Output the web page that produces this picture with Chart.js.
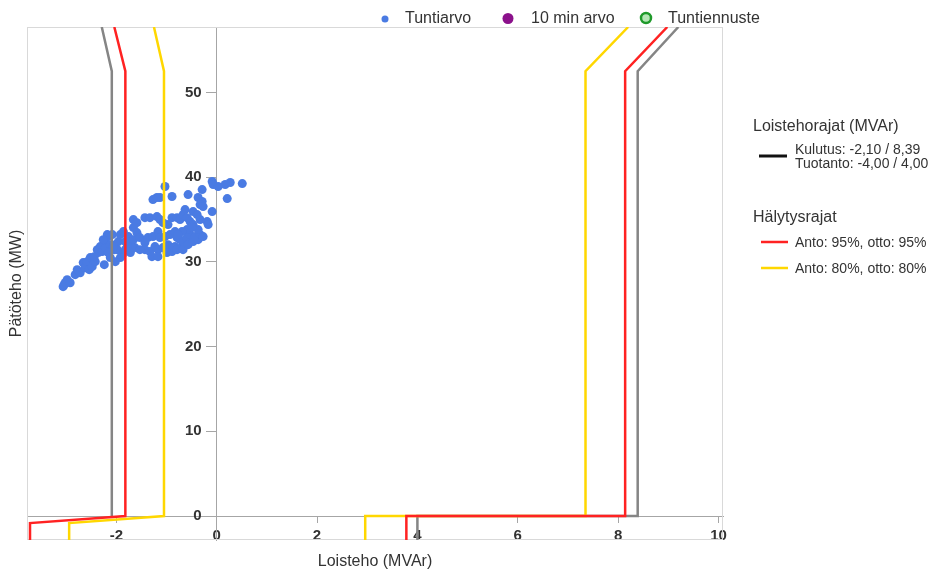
<!DOCTYPE html>
<html><head><meta charset="utf-8">
<script src="https://cdn.jsdelivr.net/npm/chart.js@4"></script>
<style>html,body{margin:0;padding:0;background:#fff;overflow:hidden}#wrap{width:929px;height:571px;position:relative}</style>
</head><body><div id="wrap"><canvas id="c" width="929" height="571"></canvas></div>
<script>
// Tuntiarvo (hourly values): reactive power Q (MVAr), active power P (MW)
const hourQ = [-3.06,-3.02,-2.98,-3.04,-2.92,-2.82,-2.78,-2.72,-2.66,-2.62,-2.58,-2.54,-2.52,-2.48,-2.42,-2.44,-2.36,-2.38,-2.32,-2.24,
 -2.28,-2.22,-2.22,-2.16,-2.12,-2.08,-2.04,-2.02,-1.98,-1.96,-1.92,-1.88,-1.86,-1.82,-1.82,-1.76,-1.72,-1.72,-1.66,-1.66,
 -1.66,-1.59,-1.59,-1.53,-1.63,-1.43,-1.33,-1.19,-1.13,-1.07,-0.97,-0.89,-0.79,-1.19,-1.13,-1.27,-1.03,-0.89,-1.37,-1.27,
 -1.17,-1.13,-1.03,-0.93,-0.83,-0.79,-1.43,-1.33,-1.23,-1.17,-1.07,-0.97,-0.89,-0.83,-1.29,-1.17,-1.43,-1.53,-0.87,-0.79,
 -0.69,-0.99,-0.67,-0.73,-0.59,-0.53,-0.67,-0.57,-0.47,-0.37,-0.43,-0.33,-0.27,-0.37,-0.59,-0.69,-0.77,-0.53,-0.47,-0.49,
 -0.33,-0.19,-0.17,-0.73,-0.63,-0.67,-0.59,-0.47,-0.39,-0.09,-0.37,-0.29,-0.33,-0.27,-0.57,-0.29,-0.09,-0.07,0.03,0.17,
 0.27,0.51,0.21,-2.18,-2.26,-2.06,-2.16,-1.78,-1.92,-2.02,-2.12];
const hourP = [27.07,27.54,27.90,27.30,27.54,28.49,29.08,28.72,29.91,29.31,30.02,29.08,30.50,29.43,30.02,30.61,31.09,31.44,31.80,29.67,
 31.21,32.39,31.68,32.98,32.03,33.22,31.44,32.03,31.44,32.39,33.22,30.85,33.57,31.44,32.39,32.98,32.39,31.09,34.04,32.62,
 34.99,34.63,33.45,32.86,31.68,35.22,35.22,35.34,34.99,34.63,34.40,35.22,35.22,37.59,37.59,37.35,38.89,37.71,32.86,32.98,
 33.57,32.86,32.98,33.22,33.57,32.86,31.44,31.21,31.80,31.44,31.68,32.03,31.21,31.80,30.61,30.61,32.27,31.44,31.68,31.44,
 31.80,31.09,32.39,32.62,32.86,33.22,31.44,32.03,32.39,32.62,32.98,33.22,32.98,33.81,33.81,33.57,33.22,34.75,34.40,34.04,
 34.99,34.75,34.40,34.99,36.17,35.58,35.22,35.93,35.58,35.93,37.59,37.12,36.76,36.52,37.94,38.53,39.48,39.13,38.89,39.13,
 39.36,39.24,37.47,33.22,32.62,31.80,31.09,31.80,30.50,30.02,30.50];
// 10 min arvo and Tuntiennuste: no values shown
const tenMinQ = [], tenMinP = [];
const forecastQ = [], forecastP = [];
// Limit lines (Q, P)
const grayLeftP   = [57.72, 52.5, 0];
const grayLeftQ   = [-2.29, -2.09, -2.09];
const leftP  = [57.72, 52.5, 0, -0.83, -2.83];
const rightP = [57.72, 52.5, 0, 0, -2.83];
const grayRightQ  = [9.20, 8.39, 8.39, 4.00, 4.00];
const redLeftQ    = [-2.04, -1.82, -1.82, -3.72, -3.72];
const redRightQ   = [8.98, 8.14, 8.14, 3.78, 3.78];
const yellowLeftQ = [-1.25, -1.05, -1.05, -2.94, -2.94];
const yellowRightQ= [8.20, 7.35, 7.35, 2.96, 2.96];
const xTicks = [-2, 0, 2, 4, 6, 8, 10];
const yTicks = [0, 10, 20, 30, 40, 50];

const FONT = "'Liberation Sans', Arial, sans-serif";
Chart.defaults.font.family = FONT;
const pts = (q, p) => q.map((v, i) => ({x: v, y: p[i]}));
const limitLine = (q, p, color, w, order) => ({
  data: pts(q, p), showLine: true, borderColor: color, backgroundColor: color,
  borderWidth: w, pointRadius: 0, pointHoverRadius: 0, order: order, tension: 0
});

const deco = {
  id: 'deco',
  beforeDatasetsDraw(chart) {
    const {ctx, chartArea: a} = chart;
    ctx.save();
    ctx.strokeStyle = '#d9d9d9'; ctx.lineWidth = 1;
    ctx.strokeRect(a.left + 0.5, a.top + 0.5, a.right - a.left - 1, a.bottom - a.top - 1);
    // y tick labels, left of the y axis at Q = 0
    const xs = chart.scales.x, ys = chart.scales.y;
    const ax = xs.getPixelForValue(0);
    ctx.font = "bold 15px " + FONT;
    ctx.fillStyle = '#333';
    ctx.textAlign = 'right';
    ctx.textBaseline = 'middle';
    yTicks.forEach(v => ctx.fillText(String(v), ax - 15, ys.getPixelForValue(v)));
    ctx.restore();
  },
  afterDraw(chart) {
    const {ctx, chartArea: a} = chart;
    ctx.save();
    ctx.fillStyle = '#333';
    ctx.textBaseline = 'middle';
    // axis titles
    ctx.font = "16px " + FONT;
    ctx.textAlign = 'center';
    ctx.fillText('Loisteho (MVAr)', (a.left + a.right) / 2, 562);
    ctx.save();
    ctx.translate(17, (a.top + a.bottom) / 2);
    ctx.rotate(-Math.PI / 2);
    ctx.fillText('Pätöteho (MW)', 0, 0);
    ctx.restore();
    // top legend
    ctx.textAlign = 'left';
    ctx.beginPath(); ctx.arc(385, 19, 3.5, 0, Math.PI * 2); ctx.fillStyle = '#4a7be3'; ctx.fill();
    ctx.beginPath(); ctx.arc(508, 18.5, 5.5, 0, Math.PI * 2); ctx.fillStyle = '#8b118b'; ctx.fill();
    ctx.beginPath(); ctx.arc(646, 18, 5, 0, Math.PI * 2); ctx.fillStyle = '#b5e6b5'; ctx.fill();
    ctx.lineWidth = 2.5; ctx.strokeStyle = '#1f9a2a'; ctx.stroke();
    ctx.fillStyle = '#333';
    ctx.fillText('Tuntiarvo', 405, 19);
    ctx.fillText('10 min arvo', 531, 19);
    ctx.fillText('Tuntiennuste', 668, 19);
    // right legend
    ctx.fillText('Loistehorajat (MVAr)', 753, 127);
    ctx.fillText('Hälytysrajat', 753, 218);
    ctx.font = "14px " + FONT;
    ctx.fillText('Kulutus: -2,10 / 8,39', 795, 150);
    ctx.fillText('Tuotanto: -4,00 / 4,00', 795, 164);
    ctx.fillText('Anto: 95%, otto: 95%', 795, 243);
    ctx.fillText('Anto: 80%, otto: 80%', 795, 269);
    ctx.lineWidth = 3;
    ctx.beginPath(); ctx.moveTo(759, 156); ctx.lineTo(787, 156); ctx.strokeStyle = '#111'; ctx.stroke();
    ctx.lineWidth = 2.5;
    ctx.beginPath(); ctx.moveTo(761, 242); ctx.lineTo(788, 242); ctx.strokeStyle = '#ff2222'; ctx.stroke();
    ctx.beginPath(); ctx.moveTo(761, 268); ctx.lineTo(788, 268); ctx.strokeStyle = '#ffd700'; ctx.stroke();
    ctx.restore();
  }
};

new Chart(document.getElementById('c'), {
  type: 'scatter',
  data: {
    datasets: [
      limitLine(redLeftQ, leftP, '#ff2222', 2.5, 0),
      limitLine(redRightQ, rightP, '#ff2222', 2.5, 0),
      limitLine(yellowLeftQ, leftP, '#ffd700', 2.5, 1),
      limitLine(yellowRightQ, rightP, '#ffd700', 2.5, 1),
      limitLine(grayLeftQ, grayLeftP, '#858585', 2.5, 2),
      limitLine(grayRightQ, rightP, '#858585', 2.5, 2),
      {label: 'Tuntiarvo', data: pts(hourQ, hourP), pointRadius: 4.5, pointBorderWidth: 0,
       backgroundColor: '#4a7be3', borderColor: '#4a7be3', order: 3},
      {label: '10 min arvo', data: pts(tenMinQ, tenMinP), pointRadius: 5.5, backgroundColor: '#8b118b', order: 3},
      {label: 'Tuntiennuste', data: pts(forecastQ, forecastP), pointRadius: 5, backgroundColor: '#b5e6b5', borderColor: '#1f9a2a', borderWidth: 2.5, order: 3}
    ]
  },
  options: {
    responsive: false, animation: false, events: [],
    layout: {padding: {left: 27, top: 27, right: 206, bottom: 31}},
    plugins: {legend: {display: false}, tooltip: {enabled: false}},
    scales: {
      x: {
        type: 'linear', min: -3.78, max: 10.09, position: {y: 0},
        afterBuildTicks: s => { s.ticks = xTicks.map(v => ({value: v})); },
        grid: {drawOnChartArea: false, drawTicks: true, tickLength: 6, color: '#a6a6a6'},
        border: {display: true, color: '#a6a6a6', width: 1},
        ticks: {font: {size: 15, weight: 'bold'}, color: '#333', padding: 5, maxRotation: 0, autoSkip: false, callback: v => String(v)}
      },
      y: {
        type: 'linear', min: -2.83, max: 57.72, position: {x: 0},
        afterBuildTicks: s => { s.ticks = yTicks.map(v => ({value: v})); },
        grid: {drawOnChartArea: false, drawTicks: true, tickLength: 10, color: '#a6a6a6'},
        border: {display: true, color: '#a6a6a6', width: 1},
        ticks: {display: false}
      }
    }
  },
  plugins: [deco]
});
</script></body></html>
